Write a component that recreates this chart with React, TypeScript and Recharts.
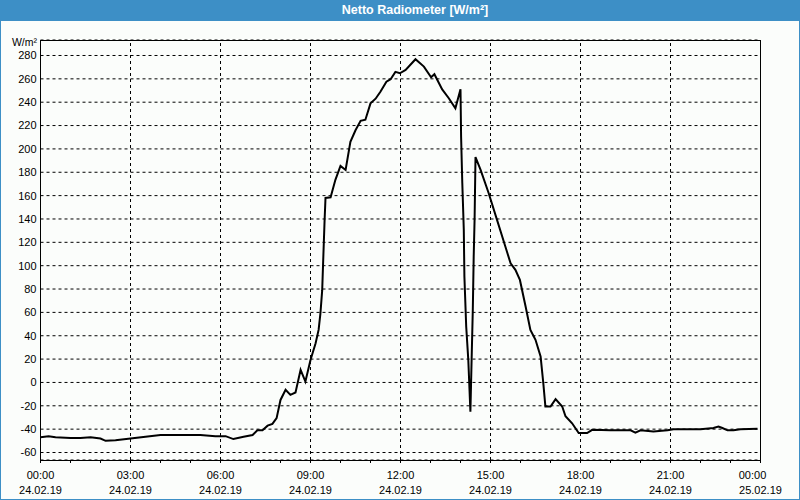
import React from "react";
import { LineChart, Line, XAxis, YAxis, CartesianGrid, ReferenceLine } from "recharts";

const hours: number[] = [
  0.0, 0.27, 0.5, 1.0, 1.33, 1.67, 2.0, 2.17, 2.5, 3.0, 3.5, 4.0, 4.67, 5.33, 5.83, 6.17, 6.43, 6.77,
  7.07, 7.23, 7.4, 7.57, 7.73, 7.87, 8.0, 8.17, 8.33, 8.5, 8.67, 8.83, 9.0, 9.17, 9.27, 9.33, 9.39,
  9.42, 9.47, 9.5, 9.67, 9.83, 10.0, 10.17, 10.33, 10.5, 10.67, 10.83, 11.0, 11.17, 11.33, 11.53,
  11.67, 11.83, 11.98, 12.17, 12.5, 12.78, 13.02, 13.13, 13.39, 13.61, 13.83, 14.0, 14.02, 14.06,
  14.11, 14.13, 14.19, 14.26, 14.33, 14.37, 14.41, 14.44, 14.47, 14.5, 14.67, 14.94, 15.22, 15.5,
  15.67, 15.83, 15.98, 16.17, 16.33, 16.5, 16.67, 16.76, 16.83, 17.0, 17.17, 17.39, 17.5, 17.72,
  17.94, 18.22, 18.39, 19.0, 19.67, 19.83, 20.0, 20.43, 20.9, 21.1, 22.0, 22.43, 22.6, 22.73, 22.9,
  23.1, 23.33, 23.9,
];

const radiation: number[] = [
  -47, -46, -47, -47.5, -47.5, -47, -48, -50, -49.5, -48, -46.5, -45, -45, -45, -46, -46, -48.5, -46.5,
  -45, -41, -41, -37, -35.5, -30.6, -15, -6.3, -10.6, -8.6, 10.8, 0.8, 19.3, 33.6, 45, 59, 79,
  102, 139, 158, 158.5, 173.5, 185.4, 182, 206, 216, 224, 225, 239, 243, 249, 257.6,
  259.7, 266, 264.8, 267.6, 276.8, 270.5, 261.4, 264, 251, 243.4, 234.8, 251, 210.5, 170.6,
  130.6, 90.7, 47.9, 19.3, -25, 19, 62, 108, 140, 193, 182, 162, 139, 116,
  102, 96.4, 87.8, 65, 45, 36.5, 22.2, -0.6, -20.6, -20.6, -14.3, -20.6, -29, -35,
  -43.4, -43.4, -40.6, -41, -41, -43, -41, -42, -41, -40, -40, -39, -37.8, -39, -41,
  -41, -40, -39.7,
];

const yTicks: number[] = [-60, -40, -20, 0, 20, 40, 60, 80, 100, 120, 140, 160, 180, 200, 220, 240, 260, 280];
const xTicks: number[] = Array.from({ length: 25 }, (_, i) => i);
const gridHours: number[] = [3, 6, 9, 12, 15, 18, 21];
const timeLabels: string[] = ["00:00", "03:00", "06:00", "09:00", "12:00", "15:00", "18:00", "21:00", "00:00"];
const dateLabels: string[] = ["24.02.19", "24.02.19", "24.02.19", "24.02.19", "24.02.19", "24.02.19", "24.02.19", "24.02.19", "25.02.19"];

const data = hours.map((h, i) => ({ h, v: radiation[i] }));

const FONT = "'Liberation Sans', Arial, sans-serif";

const XTick = (props: any) => {
  const { x, y, payload } = props;
  const val = payload.value as number;
  if (val % 3 !== 0) return <g />;
  const idx = val / 3;
  const last = idx === timeLabels.length - 1;
  return (
    <g>
      <text x={x + (last ? -8 : 0)} y={y + 16} textAnchor="middle" fontSize={11} fontFamily={FONT} fill="#000">
        {timeLabels[idx]}
      </text>
      <text x={x} y={y + 31} textAnchor="middle" fontSize={11} fontFamily={FONT} fill="#000">
        {dateLabels[idx]}
      </text>
    </g>
  );
};

export default function App() {
  return (
    <div
      style={{
        position: "fixed",
        left: 0,
        top: 0,
        width: 800,
        height: 500,
        background: "#fbfdfb",
        boxSizing: "border-box",
        border: "1px solid #3d8fc6",
        overflow: "hidden",
      }}
    >
      <div
        style={{
          position: "absolute",
          left: -1,
          top: -1,
          width: 800,
          height: 21,
          background: "#3d8fc6",
        }}
      />
      <div
        style={{
          position: "absolute",
          left: 0,
          top: 1,
          width: 828,
          textAlign: "center",
          color: "#fff",
          fontFamily: FONT,
          fontWeight: "bold",
          fontSize: 12.5,
          lineHeight: "17px",
        }}
      >
        Netto Radiometer [W/m²]
      </div>
      <div style={{ position: "absolute", left: -1, top: -1 }}>
        <LineChart
          width={800}
          height={500}
          data={data}
          margin={{ top: 40, right: 39.5, bottom: 0, left: 0.5 }}
        >
          <CartesianGrid vertical={false} stroke="#000" strokeDasharray="3 3" />
          {gridHours.map((g) => (
            <ReferenceLine key={g} x={g} stroke="#000" strokeDasharray="3 3" />
          ))}
          <XAxis
            dataKey="h"
            type="number"
            domain={[0, 24]}
            ticks={xTicks}
            interval={0}
            height={40}
            axisLine={false}
            tickLine={{ stroke: "#000" }}
            tickSize={3}
            tickMargin={0}
            tick={<XTick />}
          />
          <YAxis
            type="number"
            domain={[-66.42, 293.27]}
            ticks={yTicks}
            interval={0}
            width={40}
            axisLine={false}
            tickLine={false}
            tickSize={4}
            tickMargin={0}
            tick={{ fontSize: 11, fontFamily: FONT, fill: "#000" }}
            allowDataOverflow
          />
          <Line
            type="linear"
            dataKey="v"
            stroke="#000"
            strokeWidth={2}
            dot={false}
            isAnimationActive={false}
          />
        </LineChart>
      </div>
      <div
        style={{
          position: "absolute",
          left: 39,
          top: 39,
          width: 721,
          height: 421,
          boxSizing: "border-box",
          border: "1px solid #000",
          pointerEvents: "none",
        }}
      />
      <div
        style={{
          position: "absolute",
          left: 0,
          top: 36,
          width: 36,
          textAlign: "right",
          fontFamily: FONT,
          fontSize: 10.5,
          lineHeight: "11px",
          color: "#000",
        }}
      >
        W/m²
      </div>
    </div>
  );
}
